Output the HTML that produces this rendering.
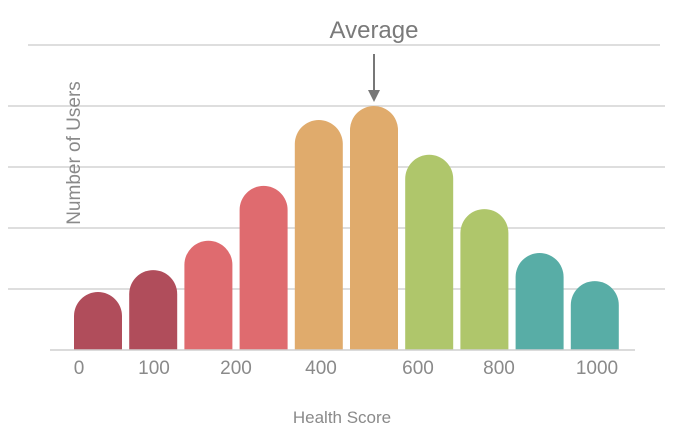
<!DOCTYPE html>
<html><head><meta charset="utf-8"><style>
html,body{margin:0;padding:0;background:#fff;}
svg{display:block;font-family:"Liberation Sans",sans-serif;}
</style></head><body>
<svg id="chart" width="685" height="446" viewBox="0 0 685 446"></svg>
<script>
const categories = ["0","100","150","200","400","500","600","800","900","1000"];
const values = [0.95, 1.31, 1.79, 2.69, 3.77, 4.0, 3.2, 2.31, 1.59, 1.13];
const colors = ["#b04d5b","#b04d5b","#df6b6f","#df6b6f","#e0ab6c","#e0ab6c","#afc66b","#afc66b","#58ada6","#58ada6"];
const gridTicks = [1,2,3,4,5];
const tickLabels = ["0","100","200","400","600","800","1000"];
const tickLabelX = [79,154,236,321,418,499,597];
const avgIndex = 5;

const NS="http://www.w3.org/2000/svg";
const svg=document.getElementById('chart');
const baseY=350, unit=61, bar0=74, step=55.2, bw=48;
const y=v=>baseY-v*unit;
const xb=i=>bar0+i*step;
function mk(t,a){const e=document.createElementNS(NS,t);for(const k in a)e.setAttribute(k,a[k]);svg.appendChild(e);return e;}

gridTicks.forEach((t,i)=>{
  const l=mk('line',{x1:t===5?28:8,x2:t===5?660:665,y1:y(t),y2:y(t),stroke:'#d4d4d4','stroke-width':1.5});
  
  
});
values.forEach((v,i)=>{
  const x=xb(i), top=y(v), r=bw/2;
  const d=`M${x},${baseY} L${x},${top+r} A${r},${r} 0 0 1 ${x+bw},${top+r} L${x+bw},${baseY} Z`;
  const p=mk('path',{d:d,fill:colors[i]});
  
  
});
const base=mk('line',{x1:50,x2:635,y1:baseY,y2:baseY,stroke:'#cfcfcf','stroke-width':1.5});


tickLabels.forEach((t,i)=>{
  const e=mk('text',{x:tickLabelX[i],y:374,'text-anchor':'middle','font-size':19,fill:'#8a8a8a'});
  e.textContent=t;
  
  
});
const ax=xb(avgIndex)+bw/2;
const al=mk('line',{x1:ax,x2:ax,y1:54,y2:92,stroke:'#777','stroke-width':2});


const ah=mk('path',{d:`M${ax-6},90 L${ax+6},90 L${ax},102 Z`,fill:'#777'});


const at=mk('text',{x:ax,y:38,'text-anchor':'middle','font-size':24,fill:'#7a7a7a'});
at.textContent='Average';


const yt=mk('text',{x:0,y:0,'text-anchor':'middle','font-size':19,fill:'#8a8a8a',transform:'translate(80,153) rotate(-90)'});
yt.textContent='Number of Users';


const xt=mk('text',{x:342,y:423,'text-anchor':'middle','font-size':17,fill:'#8a8a8a'});
xt.textContent='Health Score';


</script>
</body></html>
